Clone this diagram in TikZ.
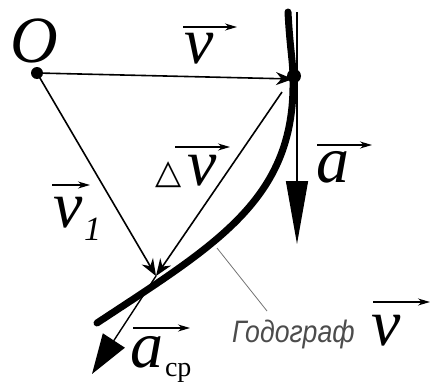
\documentclass[tikz,border=0pt]{standalone}
\usepackage{fontspec}
\setmainfont{Liberation Serif}
\newfontfamily\dejavu{DejaVu Sans}
\newfontfamily\lsans[FakeStretch=0.86]{Liberation Sans}
\usetikzlibrary{arrows.meta,calc}
\begin{document}
\begin{tikzpicture}[x=1pt,y=-1pt,
  lbl/.style={inner sep=0pt, outer sep=0pt, anchor=base west, font=\fontsize{66}{66}\selectfont\itshape},
  sub/.style={inner sep=0pt, outer sep=0pt, anchor=base west, font=\fontsize{28}{28}\selectfont},
  ovar/.style={line width=1.3pt, -{Stealth[length=12pt,width=7pt]}},
  vecarr/.style={line width=1.6pt, -{Stealth[length=17pt,width=13pt]}},
  hodo/.style={line width=7pt, line cap=round}]
\useasboundingbox (0,0) rectangle (432,383);
% points
\coordinate (O) at (37,73);
\coordinate (A) at (293,79);
\coordinate (A2) at (282,92);
\coordinate (B) at (156,276);
\coordinate (T) at (297,12);
\coordinate (Atip) at (297,244);
\coordinate (Ctip) at (92,374);
\coordinate (P) at (217,248);
\coordinate (Q) at (267,311);
% hodograph
\draw[hodo] (288,12) .. controls (290,50) and (293,60) .. (293,80)
   .. controls (295,200) and (215,245) .. (97,323);
% vectors
\draw[vecarr] (O) -- (A);
\draw[vecarr] (A2) -- (B);
\draw[vecarr] (O) -- (B);
\draw[line width=1.4pt, -{Triangle[length=63pt,width=22pt]}] (T) -- (Atip);
\draw[line width=1.4pt, -{Triangle[length=40pt,width=26pt]}] (B) -- (Ctip);
\fill (O) circle (6);
\fill (294,76) circle (7);
% labels
\node[lbl] (lO) at (11,62) {O};
\node[lbl] (lv) at (184,63) {v};
\node[inner sep=0pt, anchor=base west, font=\fontsize{34}{34}\dejavu] (ld) at (155,183) {△};
\node[lbl] (ldv) at (187,185) {v};
\node[lbl] (lv1) at (53,227) {v};
\node[inner sep=0pt, anchor=base west, font=\fontsize{34}{34}\selectfont\itshape] (lv1s) at (84,240) {1};
\node[lbl] (la) at (316,182) {a};
\node[lbl] (lac) at (130,367) {a};
\node[sub] (lacs) at (165,376) {ср};
\node[inner sep=0pt, anchor=base west, font=\fontsize{31}{31}\lsans\itshape, text=black!70] (lh) at (232,342) {Годограф};
\node[lbl] (lhv) at (371,345) {v};
\draw[black!55, line width=0.8pt] (P) -- (Q);
% over arrows
\draw[ovar] (183,27) -- (237,27);
\draw[ovar] (175,147) -- (230,147);
\draw[ovar] (52,185) -- (90,185);
\draw[ovar] (317,145) -- (372,145);
\draw[ovar] (133,328) -- (190,328);
\draw[ovar] (373,302) -- (430,302);
\end{tikzpicture}
\end{document}
